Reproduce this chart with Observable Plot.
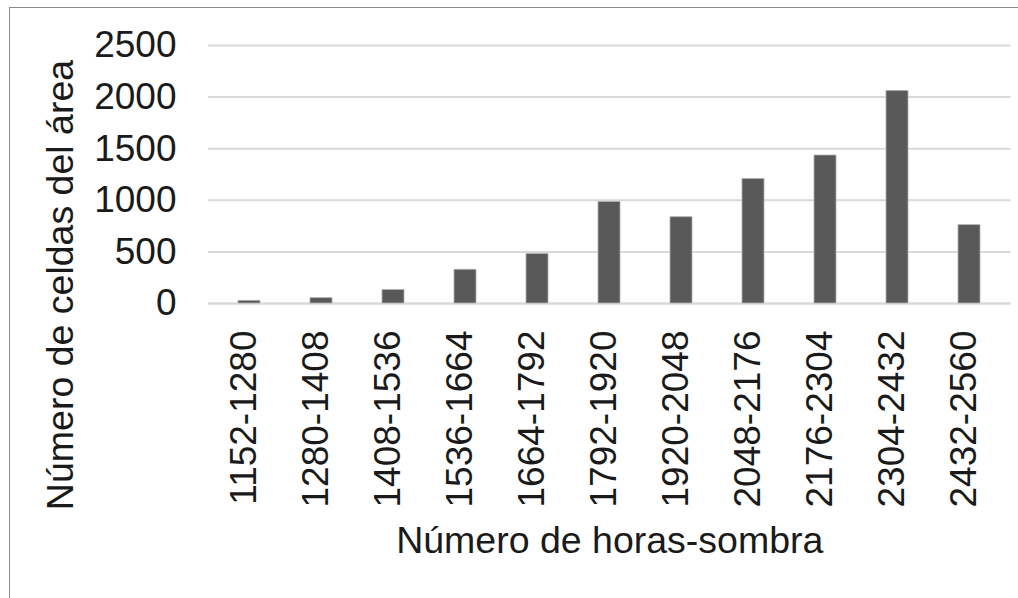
<!DOCTYPE html>
<html>
<head>
<meta charset="utf-8">
<script src="https://cdn.jsdelivr.net/npm/d3@7"></script>
<script src="https://cdn.jsdelivr.net/npm/@observablehq/plot@0.6"></script>
<style>
  html, body { margin: 0; padding: 0; background: #fff; }
  #wrap { position: relative; width: 1018px; height: 598px; overflow: hidden; }
  #frame { position: absolute; left: 9px; top: 7px; width: 1100px; height: 700px;
           border-left: 1.5px solid #8a8a8a; border-top: 1.5px solid #8a8a8a; pointer-events: none; }
</style>
</head>
<body>
<div id="wrap"><div id="frame"></div></div>
<script>
const categories = ["1152-1280","1280-1408","1408-1536","1536-1664","1664-1792","1792-1920","1920-2048","2048-2176","2176-2304","2304-2432","2432-2560"];
const counts = [26, 52, 130, 327, 479, 984, 836, 1207, 1434, 2060, 759];
const yTicks = [0, 500, 1000, 1500, 2000, 2500];
const xTitle = "Número de horas-sombra";
const yTitle = "Número de celdas del área";

const data = categories.map((c, i) => ({cat: c, n: counts[i]}));

const chart = Plot.plot({
  width: 1018,
  height: 598,
  marginLeft: 208,
  marginRight: 7.5,
  marginTop: 45,
  marginBottom: 295,
  style: {fontFamily: "'Liberation Sans', Arial, sans-serif", fontSize: "37px", color: "#1a1a1a", background: "transparent"},
  x: {domain: categories, padding: 0},
  y: {domain: [0, 2500]},
  marks: [
    Plot.gridY(yTicks, {stroke: "#d9d9d9", strokeOpacity: 1, strokeWidth: 2}),
    Plot.ruleY([0], {stroke: "#d9d9d9", strokeWidth: 2}),
    Plot.barY(data, {x: "cat", y: "n", fill: "#595959", stroke: "#b0b0b0", strokeWidth: 0.8, insetLeft: 25, insetRight: 25}),
    Plot.axisY(yTicks, {tickSize: 0, tickPadding: 32, fontSize: 37, tickFormat: d => String(d), label: null}),
    Plot.axisX({tickSize: 0, tickPadding: 27, tickRotate: -90, fontSize: 37, dx: -5, label: xTitle, labelAnchor: "center", labelOffset: 249, labelArrow: "none"}),
    Plot.text([yTitle], {frameAnchor: "left", rotate: -90, textAnchor: "middle", lineAnchor: "top", dx: -162, dy: 110.5, fontSize: 37.5, fill: "#1a1a1a"})
  ]
});
chart.querySelectorAll("g[aria-label='x-axis label'] text").forEach(t => t.setAttribute("font-size", "37.5"));
document.getElementById("wrap").prepend(chart);
</script>
</body>
</html>
